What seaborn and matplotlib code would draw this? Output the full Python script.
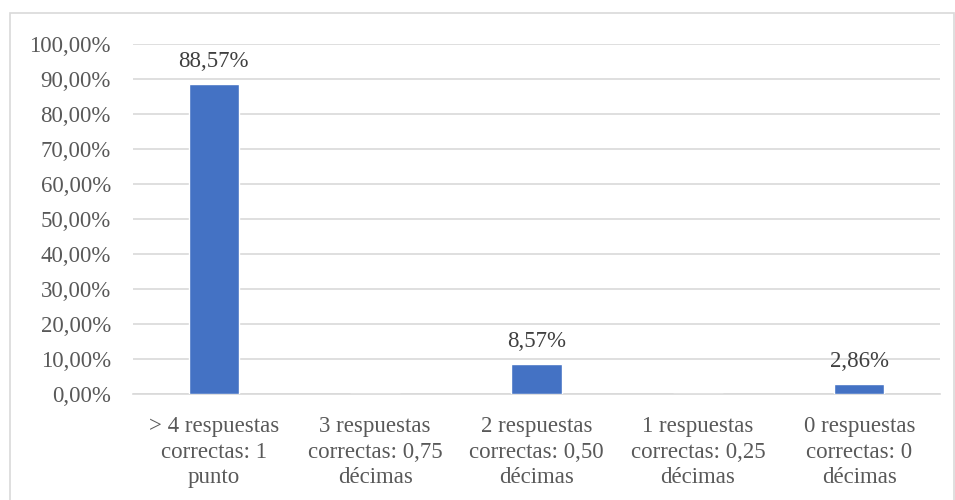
import matplotlib
matplotlib.use("Agg")
import matplotlib.pyplot as plt
import seaborn as sns
import pandas as pd
from matplotlib.patches import Rectangle

sns.set_style("white")
plt.rcParams['font.family'] = ['Liberation Serif', 'DejaVu Serif']

# datos
categorias = ["> 4 respuestas\ncorrectas: 1\npunto",
              "3 respuestas\ncorrectas: 0,75\ndécimas",
              "2 respuestas\ncorrectas: 0,50\ndécimas",
              "1 respuestas\ncorrectas: 0,25\ndécimas",
              "0 respuestas\ncorrectas: 0\ndécimas"]
porcentajes = [0.8857, 0.0, 0.0857, 0.0, 0.0286]
etiquetas = ["88,57%", "", "8,57%", "", "2,86%"]
yticks = [i / 10 for i in range(11)]

df = pd.DataFrame({"cat": categorias, "val": porcentajes})

fig = plt.figure(figsize=(9.55, 5), dpi=100)
ax = fig.add_axes([133 / 955, 1 - 394 / 500, 807 / 955, 350 / 500])

sns.barplot(data=df, x="cat", y="val", color="#4472C4", width=0.31,
            saturation=1, ax=ax, zorder=3)

for i, (v, t) in enumerate(zip(porcentajes, etiquetas)):
    if t:
        ax.text(i, v + 0.033, t, ha="center", va="bottom",
                fontsize=16.5, color="#404040")

ax.set_ylim(0, 1)
ax.set_xlim(-0.5, 4.5)
ax.set_yticks(yticks)
ax.set_yticklabels([f"{v*100:.2f}%".replace(".", ",") for v in yticks])
ax.yaxis.grid(True, color="#d9d9d9", linewidth=1.2, zorder=0)
ax.xaxis.grid(False)
ax.set_xlabel("")
ax.set_ylabel("")
ax.tick_params(axis="both", length=0, labelsize=16.5, labelcolor="#595959")
ax.tick_params(axis="y", pad=16)
ax.tick_params(axis="x", pad=16)
for lbl in ax.get_xticklabels():
    lbl.set_linespacing(1.27)
for s in ["top", "right", "left"]:
    ax.spines[s].set_visible(False)
ax.spines["bottom"].set_color("#d9d9d9")
ax.spines["bottom"].set_linewidth(1.2)

# marco del gráfico
fig.patches.append(Rectangle((10 / 955, -0.01), 944 / 955, (500 - 13) / 500 + 0.01,
                             transform=fig.transFigure, fill=False,
                             edgecolor="#d9d9d9", linewidth=1.2))

fig.savefig("out.png", dpi=100)
